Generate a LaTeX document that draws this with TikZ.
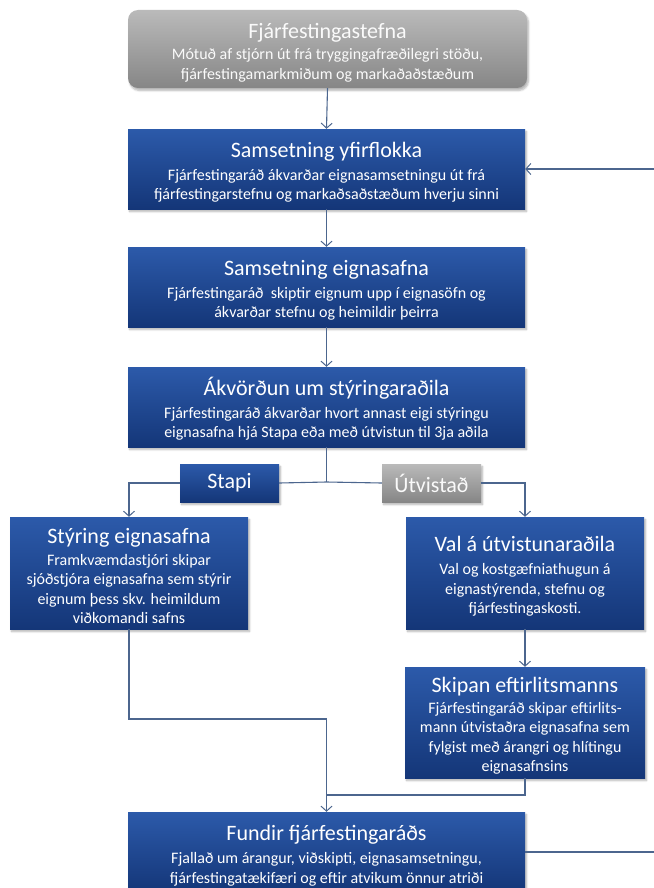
\documentclass[tikz,border=0pt]{standalone}
\usepackage{fontspec}
\setmainfont{Carlito}
\usetikzlibrary{arrows.meta,shadows.blur,calc}
\definecolor{bluetop}{RGB}{44,90,170}
\definecolor{bluebot}{RGB}{20,54,120}
\definecolor{graytop}{RGB}{186,186,186}
\definecolor{graybot}{RGB}{134,134,134}
\definecolor{linec}{RGB}{76,102,142}
\newcommand\mybody{\fontsize{16}{19.5}\selectfont}
\newcommand\mytitle{\fontsize{22}{25}\selectfont\rule{0pt}{22pt}}
\tikzset{
  shad/.style={blur shadow={shadow xshift=1.5pt, shadow yshift=-2.5pt, shadow opacity=30, shadow blur steps=6}},
  bluebox/.style={shad, draw=none, top color=bluetop, bottom color=bluebot, text=white, align=center, inner sep=0pt, font=\mybody},
  graybox/.style={shad, draw=none, top color=graytop, bottom color=graybot, text=white!96!gray, align=center, inner sep=0pt, font=\mybody},
  conn/.style={draw=linec, line width=1.1pt},
  arr/.style={conn, -{Straight Barb[length=5pt,width=11pt,line width=1pt]}}
}
\begin{document}
\begin{tikzpicture}[x=1pt,y=-1pt]
\useasboundingbox (0,0) rectangle (653,888);

\node[graybox, rounded corners=10pt, minimum width=399pt, minimum height=78pt] (fp) at (327.5,49)
  {{\mytitle Fjárfestingastefna}\\[2pt] Mótuð af stjórn út frá tryggingafræðilegri stöðu,\\ fjárfestingamarkmiðum og markaðaðstæðum};

\node[bluebox, minimum width=397pt, minimum height=80pt] (b2) at (326.5,169)
  {{\mytitle Samsetning yfirflokka}\\[3pt] Fjárfestingaráð ákvarðar eignasamsetningu út frá\\ fjárfestingarstefnu og markaðsaðstæðum hverju sinni};

\node[bluebox, minimum width=397pt, minimum height=80pt] (b3) at (326.5,287)
  {{\mytitle Samsetning eignasafna}\\[3pt] Fjárfestingaráð\ \ skiptir eignum upp í eignasöfn og\\ ákvarðar stefnu og heimildir þeirra};

\node[bluebox, minimum width=397pt, minimum height=80pt] (b4) at (326.5,407)
  {{\mytitle Ákvörðun um stýringaraðila}\\[3pt] Fjárfestingaráð ákvarðar hvort annast eigi stýringu\\ eignasafna hjá Stapa eða með útvistun til 3ja aðila};

\coordinate (j) at (326.5,482);
\draw[conn] (b4.south) -- (j);

\node[bluebox, minimum width=99pt, minimum height=38pt, font=\fontsize{22}{25}\selectfont] (stapi) at (229.5,483) {Stapi};
\node[graybox, minimum width=99pt, minimum height=38pt, font=\fontsize{22}{25}\selectfont] (utv) at (431.5,483) {Útvistað};

\node[bluebox, minimum width=238pt, minimum height=112pt] (styr) at (129,573)
  {{\mytitle Stýring eignasafna}\\[2pt] Framkvæmdastjóri skipar\\ sjóðstjóra eignasafna sem stýrir\\ eignum þess skv. heimildum\\ viðkomandi safns};

\node[bluebox, minimum width=238pt, minimum height=112pt] (val) at (525,573)
  {{\mytitle Val á útvistunaraðila}\\[4pt] Val og kostgæfniathugun á\\ eignastýrenda, stefnu og\\ fjárfestingaskosti.};

\node[bluebox, minimum width=240pt, minimum height=111pt] (skip) at (525,722.5)
  {{\mytitle Skipan eftirlitsmanns}\\[1pt] Fjárfestingaráð skipar eftirlits-\\ mann útvistaðra eignasafna sem\\ fylgist með árangri og hlítingu\\ eignasafnsins};

\node[bluebox, minimum width=397pt, minimum height=80pt] (fund) at (326.5,852)
  {{\mytitle Fundir fjárfestingaráðs}\\[4pt] Fjallað um árangur, viðskipti, eignasamsetningu,\\ fjárfestingatækifæri og eftir atvikum önnur atriði};

\coordinate (m1) at (326.5,719);
\coordinate (m2) at (326.5,795);
\coordinate (r1) at (662,852);
\coordinate (r2) at (662,169);

\draw[arr] (fp.south) -- (b2.north);
\draw[arr] (b2.south) -- (b3.north);
\draw[arr] (b3.south) -- (b4.north);
\draw[conn] (j) -- (stapi.east);
\draw[conn] (j) -- (utv.west);
\draw[arr] (stapi.west) -| (styr.north);
\draw[arr] (utv.east) -| (val.north);
\draw[arr] (val.south) -- (skip.north);
\draw[conn] (styr.south) |- (m1);
\draw[arr] (m1) -- (fund.north);
\draw[conn] (skip.south) |- (m2);
\draw[arr] (fund.east) -- (r1) -- (r2) -- (b2.east);
\end{tikzpicture}
\end{document}
